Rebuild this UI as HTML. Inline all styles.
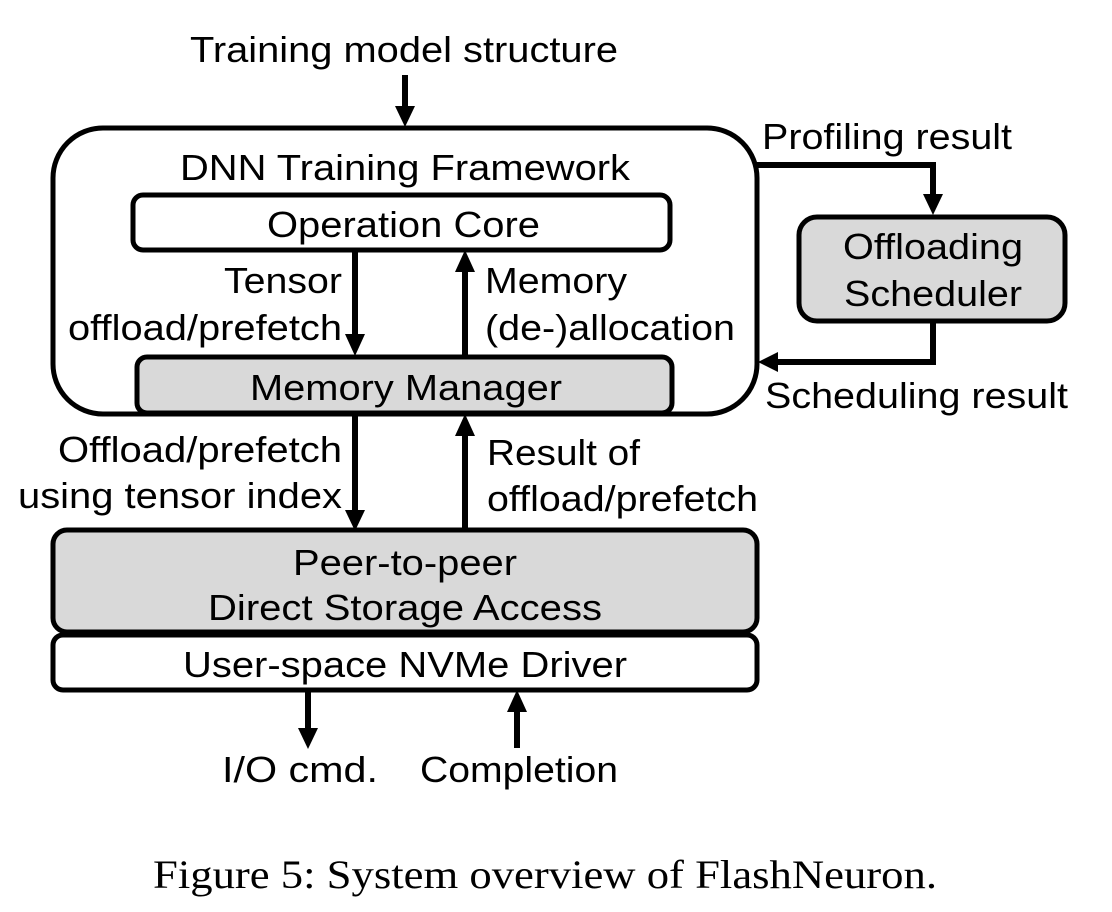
<!DOCTYPE html>
<html><head><meta charset="utf-8"><style>
html,body{margin:0;padding:0;background:#fff;}
svg{display:block;}
text{font-family:"Liberation Sans",Arial,sans-serif;fill:#000;}
</style></head><body>
<svg width="1112" height="912" viewBox="0 0 1112 912" xmlns="http://www.w3.org/2000/svg">
<defs>
<marker id="ah" markerWidth="6" markerHeight="6" refX="5" refY="3" orient="auto" markerUnits="userSpaceOnUse" viewBox="0 0 6 6">
</marker>
</defs>
<g font-size="36">
<text x="190" y="62" textLength="428" lengthAdjust="spacingAndGlyphs">Training model structure</text>
</g>
<!-- arrows helper: line + triangle -->
<g stroke="#000" stroke-width="6" fill="none">
<line x1="405" y1="75" x2="405" y2="108"/>
<rect x="53" y="128" width="704" height="286" rx="50" ry="50" stroke-width="5"/>
<line x1="355" y1="250" x2="355" y2="336"/>
<line x1="465" y1="356" x2="465" y2="270"/>
<line x1="355" y1="414" x2="355" y2="512"/>
<line x1="465" y1="530" x2="465" y2="434"/>
<line x1="308" y1="690" x2="308" y2="730"/>
<line x1="517" y1="748" x2="517" y2="710"/>
<polyline points="757,165 933,165 933,196"/>
<polyline points="933,322 933,362 776,362"/>
</g>
<g fill="#000">
<polygon points="395,106 415,106 405,127"/>
<polygon points="345,334 365,334 355,356"/>
<polygon points="455,272 475,272 465,250"/>
<polygon points="345,510 365,510 355,531"/>
<polygon points="455,436 475,436 465,414"/>
<polygon points="298,728 318,728 308,749"/>
<polygon points="507,712 527,712 517,690"/>
<polygon points="923,194 943,194 933,215"/>
<polygon points="778,352 778,372 758,362"/>
</g>
<g stroke="#000" stroke-width="5">
<rect x="133" y="195" width="537" height="55" rx="10" fill="#fff"/>
<rect x="137" y="357" width="535" height="56" rx="10" fill="#d9d9d9"/>
<rect x="799" y="217" width="266" height="104" rx="18" fill="#d9d9d9"/>
<rect x="53" y="530" width="704" height="102" rx="14" fill="#d9d9d9"/>
<rect x="53" y="635" width="704" height="55" rx="10" fill="#fff"/>
</g>
<g font-size="36">
<text x="180" y="180" textLength="450" lengthAdjust="spacingAndGlyphs">DNN Training Framework</text>
<text x="267" y="237" textLength="273" lengthAdjust="spacingAndGlyphs">Operation Core</text>
<text x="224" y="293" textLength="118" lengthAdjust="spacingAndGlyphs">Tensor</text>
<text x="68" y="340" textLength="274" lengthAdjust="spacingAndGlyphs">offload/prefetch</text>
<text x="485" y="293" textLength="142" lengthAdjust="spacingAndGlyphs">Memory</text>
<text x="485" y="340" textLength="250" lengthAdjust="spacingAndGlyphs">(de-)allocation</text>
<text x="250" y="400" textLength="312" lengthAdjust="spacingAndGlyphs">Memory Manager</text>
<text x="762" y="149" textLength="250" lengthAdjust="spacingAndGlyphs">Profiling result</text>
<text x="843" y="259" textLength="180" lengthAdjust="spacingAndGlyphs">Offloading</text>
<text x="844" y="306" textLength="178" lengthAdjust="spacingAndGlyphs">Scheduler</text>
<text x="765" y="408" textLength="303" lengthAdjust="spacingAndGlyphs">Scheduling result</text>
<text x="58" y="462" textLength="284" lengthAdjust="spacingAndGlyphs">Offload/prefetch</text>
<text x="18" y="508" textLength="324" lengthAdjust="spacingAndGlyphs">using tensor index</text>
<text x="487" y="465" textLength="153" lengthAdjust="spacingAndGlyphs">Result of</text>
<text x="487" y="511" textLength="271" lengthAdjust="spacingAndGlyphs">offload/prefetch</text>
<text x="293" y="575" textLength="224" lengthAdjust="spacingAndGlyphs">Peer-to-peer</text>
<text x="208" y="620" textLength="394" lengthAdjust="spacingAndGlyphs">Direct Storage Access</text>
<text x="183" y="677" textLength="444" lengthAdjust="spacingAndGlyphs">User-space NVMe Driver</text>
<text x="222" y="782" textLength="156" lengthAdjust="spacingAndGlyphs">I/O cmd.</text>
<text x="420" y="782" textLength="198" lengthAdjust="spacingAndGlyphs">Completion</text>
</g>
<text x="153" y="888" font-size="40" textLength="784" lengthAdjust="spacingAndGlyphs" style="font-family:'Liberation Serif',serif">Figure 5: System overview of FlashNeuron.</text>
</svg>
</body></html>
